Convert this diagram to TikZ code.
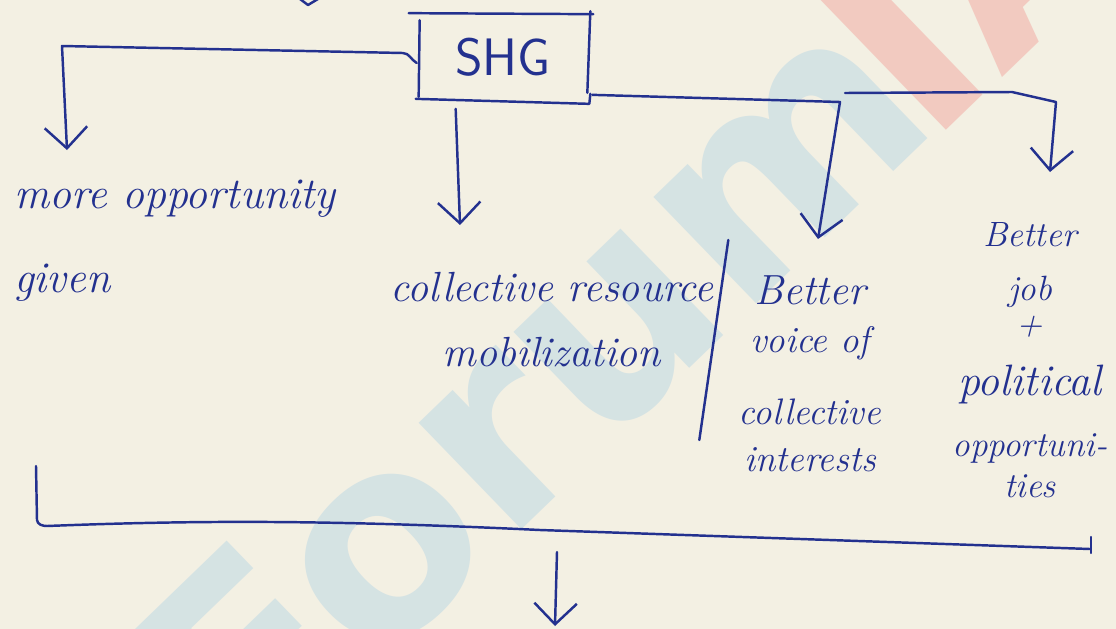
\documentclass[tikz,border=0pt]{standalone}
\usepackage{fontspec}
\newfontfamily\wmfont{DejaVu Sans}
\usetikzlibrary{arrows.meta,calc}

\definecolor{paper}{HTML}{F3F0E3}
\definecolor{ink}{HTML}{23318F}
\definecolor{wmblue}{HTML}{D5E3E3}
\definecolor{wmred}{HTML}{F2CAC0}

\tikzset{
  pen/.style={draw=ink, line width=1.4pt, line cap=round, line join=round},
  penarrow/.style={pen, -{Straight Barb[length=0.42cm, width=0.85cm, line width=1.4pt]}},
  hand/.style={text=ink, font=\itshape, inner sep=0pt, outer sep=0pt},
  wm/.style={font=\wmfont\bfseries\fontsize{154}{154}\selectfont, inner sep=0pt, rotate=44}
}

\begin{document}
\begin{tikzpicture}[x=0.02cm, y=-0.02cm]
  % page
  \fill[paper] (0,0) rectangle (1116,629);
  \useasboundingbox (0,0) rectangle (1116,629);

  % faint watermark behind the ink
  \begin{scope}
    \clip (0,0) rectangle (1116,629);
    \node[wm, text=wmblue] (wmA) at (528,390) {Forum};
    \node[wm, text=wmred, anchor=base west] (wmB) at ($(wmA.base east)+(-15,25)$) {IAS};
  \end{scope}

  % tail of an arrow coming from above
  \draw[pen] (300,-1) -- (308,5) -- (318,-1);

  % top box
  \node[minimum width=3.36cm, minimum height=1.66cm, inner sep=0pt,
        text=ink, font=\sffamily\fontsize{30}{30}\selectfont] (shg) at (503,57) {SHG};
  \draw[pen] ($(shg.north west)+(-10,-2)$) -- ($(shg.north east)+(6,-1)$);
  \draw[pen] ($(shg.north west)+(1,5)$) -- ($(shg.south west)+(0,-2)$);
  \draw[pen] ($(shg.north east)+(3,-4)$) -- ($(shg.south east)+(0,-6)$);
  \draw[pen] ($(shg.south west)+(-3,0)$) -- ($(shg.south east)+(2,5)$) -- ($(shg.south east)+(3,-5)$);

  % branch texts
  \node[hand, font=\itshape\fontsize{25}{48}\selectfont, align=left, anchor=north west]
    (more) at (14,180) {more opportunity\\given};
  \node[hand, font=\itshape\fontsize{24}{37}\selectfont, align=center, anchor=north]
    (coll) at (552,272) {collective resource\\mobilization};
  \node[hand, font=\itshape\fontsize{21}{27}\selectfont, align=center, anchor=north]
    (voice) at (810,276) {{\fontsize{24}{27}\selectfont Better}\\voice of\\[14pt]collective\\[0pt]interests};
  \node[hand, font=\itshape\fontsize{20}{26}\selectfont, align=center, anchor=north]
    (job) at (1030,222) {Better\\[5pt]job\\[-6pt]+\\[8pt]{\fontsize{25}{26}\selectfont political}\\[9pt]opportuni-\\[-3pt]ties};

  % connectors from the box
  \coordinate (lcorner) at (62,46);
  \draw[penarrow] ($(shg.west)+(-2,6)$) to[out=150,in=0] ($(shg.west)+(-16,-4)$)
      -- (lcorner) -- ($(more.north west)+(53,-30)$);
  \draw[penarrow] ($(shg.south west)+(37,10)$) -- ($(coll.north)+(-92,-47)$);

  \coordinate (rsplit) at (840,102);
  \draw[penarrow] ($(shg.south east)+(5,-4)$) -- (rsplit) -- ($(voice.north)+(8,-37)$);
  \coordinate (rtop) at (1056,102);
  \draw[penarrow] ($(rsplit)+(5,-9)$) -- (1012,92) -- (rtop) -- ($(job.north)+(20,-50)$);

  % divider between two branch texts
  \draw[pen] ($(coll.north east)+(15,-32)$) -- ($(coll.north east)+(-14,168)$);

  % bottom bracket and arrow
  \coordinate (bl) at (36,466);
  \coordinate (br) at (1091,537);
  \draw[pen] (bl) -- (37,520) to[out=-85,in=180] (47,526)
      .. controls (200,520) and (330,520) .. (540,530) -- (1090,549);
  \draw[pen] (br) -- (1091,553);
  \coordinate (next) at (555,626);
  \draw[penarrow] (557,552) -- (next);
\end{tikzpicture}
\end{document}
